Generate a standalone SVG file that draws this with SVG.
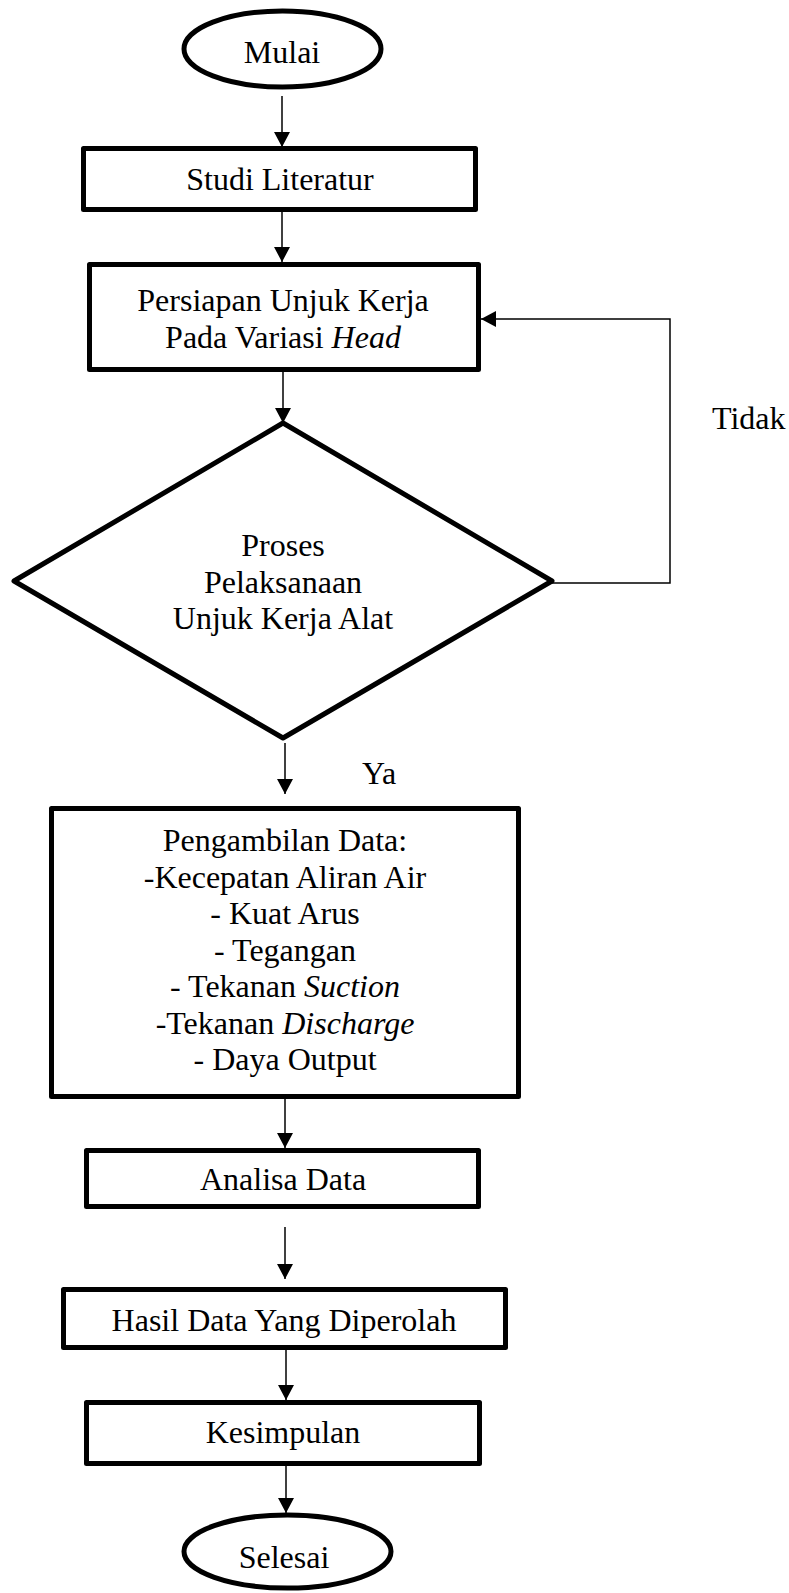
<svg xmlns="http://www.w3.org/2000/svg" width="789" height="1593" viewBox="0 0 789 1593">
<style>
.n{fill:#fff;stroke:#000;stroke-width:5;stroke-linejoin:round}
.c{fill:none;stroke:#000;stroke-width:1.5}
text{font-family:"Liberation Serif","Times New Roman",serif;font-size:32px;fill:#000}
.m{text-anchor:middle}
</style>
<defs>
<marker id="ah" markerUnits="userSpaceOnUse" markerWidth="16" markerHeight="16" refX="15" refY="8" orient="auto" viewBox="0 0 16 16">
<path d="M0,0 L15,8 L0,16 z" fill="#000"/>
</marker>
</defs>
<rect width="789" height="1593" fill="#fff"/>
<g id="connectors">
<line class="c" x1="282" y1="96" x2="282" y2="147" marker-end="url(#ah)"/>
<line class="c" x1="282" y1="211" x2="282" y2="262" marker-end="url(#ah)"/>
<line class="c" x1="283" y1="372" x2="283" y2="423" marker-end="url(#ah)"/>
<line class="c" x1="285" y1="743" x2="285" y2="794" marker-end="url(#ah)"/>
<line class="c" x1="285" y1="1099" x2="285" y2="1148" marker-end="url(#ah)"/>
<line class="c" x1="285" y1="1227" x2="285" y2="1279" marker-end="url(#ah)"/>
<line class="c" x1="286" y1="1350" x2="286" y2="1400" marker-end="url(#ah)"/>
<line class="c" x1="286" y1="1466" x2="286" y2="1513" marker-end="url(#ah)"/>
<polyline class="c" points="552,583 670,583 670,319 481,319" marker-end="url(#ah)"/>
<text x="712" y="429">Tidak</text>
<text x="362" y="784">Ya</text>
</g>
<g id="mulai">
<ellipse class="n" cx="282.5" cy="49" rx="98.5" ry="38"/>
<text class="m" x="282" y="63">Mulai</text>
</g>
<g id="studi">
<rect class="n" x="83.5" y="148.5" width="392" height="61"/>
<text class="m" x="280" y="190">Studi Literatur</text>
</g>
<g id="persiapan">
<rect class="n" x="89.5" y="264.5" width="389" height="105"/>
<text class="m" x="283" y="311">Persiapan Unjuk Kerja</text>
<text class="m" x="283" y="348">Pada Variasi <tspan font-style="italic">Head</tspan></text>
</g>
<g id="proses">
<polygon class="n" points="283,423 552,581 283,738 14,581"/>
<text class="m" x="283" y="556">Proses</text>
<text class="m" x="283" y="593">Pelaksanaan</text>
<text class="m" x="283" y="629">Unjuk Kerja Alat</text>
</g>
<g id="pengambilan">
<rect class="n" x="51.5" y="808.5" width="467" height="288"/>
<text class="m" x="285" y="851">Pengambilan Data:</text>
<text class="m" x="285" y="888">-Kecepatan Aliran Air</text>
<text class="m" x="285" y="924">- Kuat Arus</text>
<text class="m" x="285" y="961">- Tegangan</text>
<text class="m" x="285" y="997">- Tekanan <tspan font-style="italic">Suction</tspan></text>
<text class="m" x="285" y="1034">-Tekanan <tspan font-style="italic">Discharge</tspan></text>
<text class="m" x="285" y="1070">- Daya Output</text>
</g>
<g id="analisa">
<rect class="n" x="86.5" y="1150.5" width="392" height="56"/>
<text class="m" x="283" y="1190">Analisa Data</text>
</g>
<g id="hasil">
<rect class="n" x="63.5" y="1289.5" width="442" height="58"/>
<text class="m" x="284" y="1331">Hasil Data Yang Diperolah</text>
</g>
<g id="kesimpulan">
<rect class="n" x="86.5" y="1402.5" width="393" height="61"/>
<text class="m" x="283" y="1443">Kesimpulan</text>
</g>
<g id="selesai">
<ellipse class="n" cx="287.5" cy="1551.5" rx="103.5" ry="36.5"/>
<text class="m" x="284" y="1568">Selesai</text>
</g>
</svg>
